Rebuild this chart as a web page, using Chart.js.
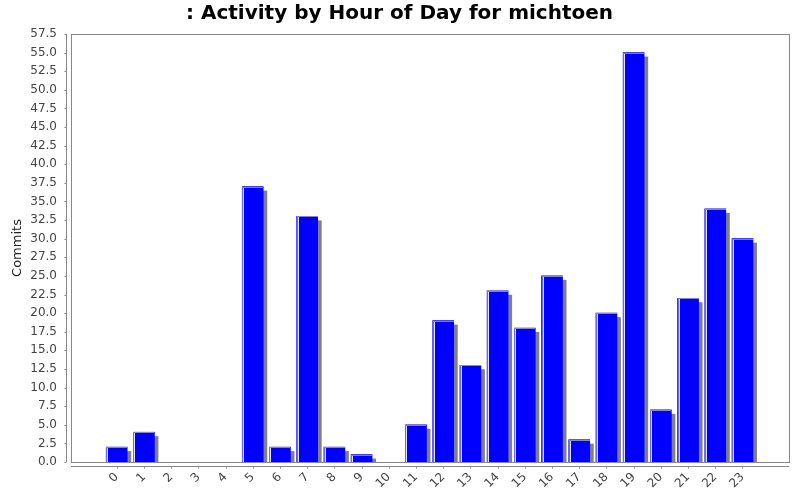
<!DOCTYPE html>
<html>
<head>
<meta charset="utf-8">
<script src="https://cdn.jsdelivr.net/npm/chart.js@4"></script>
<style>
  html, body { margin: 0; padding: 0; background: #fff; }
  #wrap { width: 800px; height: 500px; }
</style>
</head>
<body>
<div id="wrap"><canvas id="myChart" width="800" height="500"></canvas></div>
<script>
const hours = ['0','1','2','3','4','5','6','7','8','9','10','11','12','13','14','15','16','17','18','19','20','21','22','23'];
const commits = [2, 4, 0, 0, 0, 37, 2, 33, 2, 1, 0, 5, 19, 13, 23, 18, 25, 3, 20, 55, 7, 22, 34, 30];
const yTicks = [0, 2.5, 5, 7.5, 10, 12.5, 15, 17.5, 20, 22.5, 25, 27.5, 30, 32.5, 35, 37.5, 40, 42.5, 45, 47.5, 50, 52.5, 55, 57.5];

const font = 'DejaVu Sans';

// shadow behind bars, plot frame, offset axis lines
const decor = {
  id: 'decor',
  beforeDatasetsDraw(chart) {
    const ctx = chart.ctx, a = chart.chartArea;
    ctx.save();
    ctx.beginPath();
    ctx.rect(a.left, a.top, a.right - a.left, a.bottom - a.top);
    ctx.clip();
    ctx.fillStyle = '#808080';
    chart.getDatasetMeta(0).data.forEach(b => {
      if (!(b.base - b.y >= 1)) return;
      const w = b.width;
      ctx.fillRect(b.x - w / 2 + 4, b.y + 4, w, b.base - b.y);
    });
    ctx.restore();
  },
  afterDatasetsDraw(chart) {
    const ctx = chart.ctx, a = chart.chartArea;
    ctx.save();
    chart.getDatasetMeta(0).data.forEach(b => {
      if (!(b.base - b.y >= 1)) return;
      const l = Math.round(b.x - b.width / 2);
      const t = Math.round(b.y);
      ctx.fillStyle = '#6464ff';
      ctx.fillRect(l, t, 1, b.base - t);
      ctx.fillStyle = 'rgba(235,235,255,0.95)';
      ctx.fillRect(l + 1, t, 1, b.base - t);
      ctx.fillStyle = '#8080ff';
      ctx.fillRect(l, t, Math.round(b.width), 1);
    });
    // plot frame
    ctx.strokeStyle = '#888';
    ctx.lineWidth = 1;
    ctx.strokeRect(Math.round(a.left) + 0.5, Math.round(a.top) + 0.5,
      Math.round(a.right - a.left), Math.round(a.bottom - a.top));
    // y axis line and ticks
    const ys = chart.scales.y, xs = chart.scales.x;
    const ax = Math.round(a.left) - 4.5;
    ctx.beginPath();
    ctx.moveTo(ax, a.top);
    ctx.lineTo(ax, a.bottom);
    yTicks.forEach(v => {
      const py = Math.round(ys.getPixelForValue(v)) + 0.5;
      ctx.moveTo(ax - 2, py);
      ctx.lineTo(ax, py);
    });
    // x axis line and ticks
    const ay = Math.round(a.bottom) + 4.5;
    ctx.moveTo(a.left, ay);
    ctx.lineTo(a.right, ay);
    hours.forEach((h, i) => {
      const px = Math.round(xs.getPixelForValue(i)) + 0.5;
      ctx.moveTo(px, ay);
      ctx.lineTo(px, ay + 2);
    });
    ctx.stroke();
    ctx.restore();
  }
};

const ctx = document.getElementById('myChart').getContext('2d');
const myChart = new Chart(ctx, {
  type: 'bar',
  data: {
    datasets: [{
      label: 'Commits',
      data: commits.map((v, i) => ({ x: i, y: v === 0 ? null : v })),
      backgroundColor: '#0000ff',
      borderWidth: 0,
      barThickness: 21
    }]
  },
  options: {
    responsive: false,
    animation: false,
    devicePixelRatio: 1,
    layout: { padding: { left: 10, right: 11, top: 1, bottom: 0 } },
    plugins: {
      legend: { display: false },
      tooltip: { enabled: false },
      title: {
        display: true,
        text: ': Activity by Hour of Day for michtoen',
        color: '#000',
        font: { family: font, size: 20, weight: 'bold' },
        padding: { top: 1, bottom: 8 }
      }
    },
    scales: {
      x: {
        type: 'linear',
        offset: false,
        min: -1.68,
        max: 24.71,
        grid: { display: false, drawTicks: false },
        border: { display: false },
        afterBuildTicks(scale) {
          scale.ticks = hours.map((h, i) => ({ value: i }));
        },
        afterFit(scale) {
          scale.paddingLeft = 0;
          scale.paddingRight = 0;
          scale.height = 38;
        },
        ticks: {
          autoSkip: false,
          minRotation: 45,
          maxRotation: 45,
          padding: 8,
          color: '#444',
          font: { family: font, size: 12 },
          callback: (v) => hours[v]
        }
      },
      y: {
        min: 0,
        max: 57.5,
        grid: { display: false, drawTicks: false },
        border: { display: false },
        afterBuildTicks(scale) {
          scale.ticks = yTicks.map(v => ({ value: v }));
        },
        afterFit(scale) {
          scale.width = 61;
        },
        ticks: {
          padding: 14,
          color: '#444',
          font: { family: font, size: 12 },
          callback: (v) => v.toFixed(1)
        },
        title: {
          display: true,
          text: 'Commits',
          color: '#222',
          font: { family: font, size: 13 },
          padding: { top: 0, bottom: 4 }
        }
      }
    }
  },
  plugins: [decor]
});
</script>
</body>
</html>
